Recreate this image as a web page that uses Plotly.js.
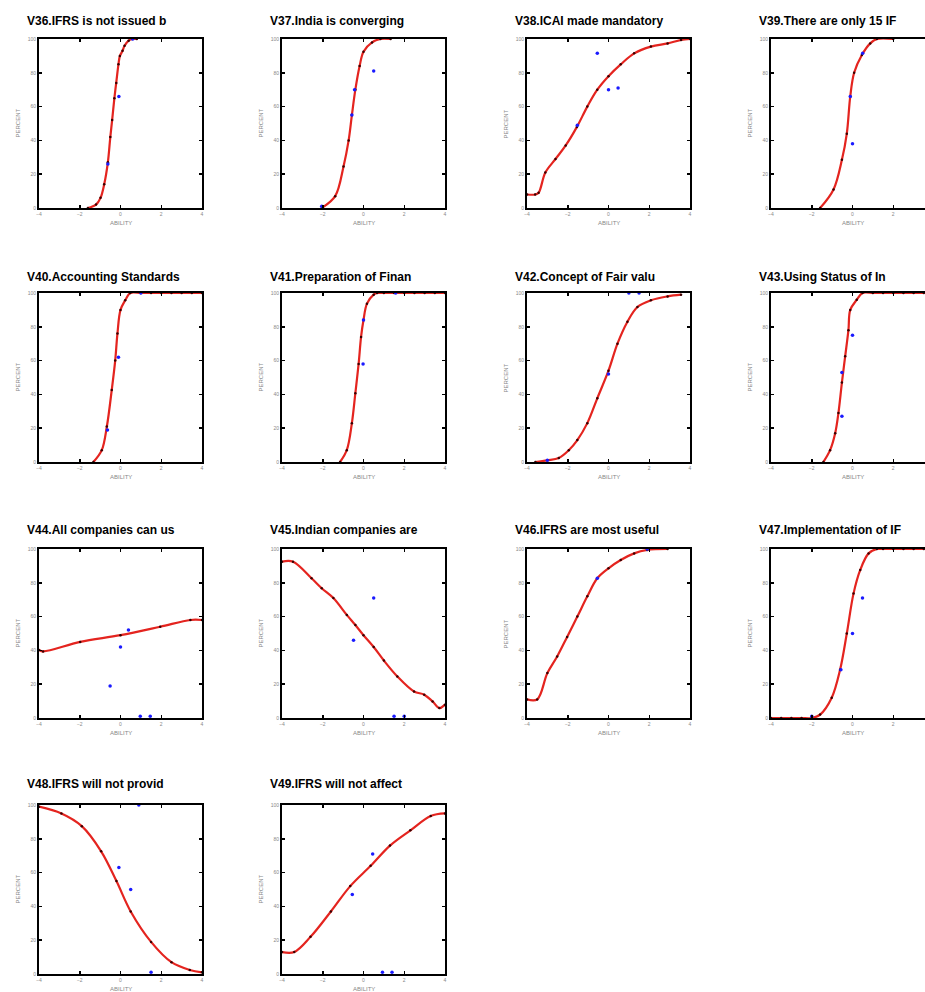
<!DOCTYPE html>
<html>
<head>
<meta charset="utf-8">
<script src="https://cdn.plot.ly/plotly-3.0.1.min.js"></script>
<style>
html,body{margin:0;padding:0;background:#fff;overflow:hidden;}
#chart{width:960px;height:992px;}
</style>
</head>
<body>
<div id="chart"></div>
<script>
// ---- data ----
const titles = [
  "V36.IFRS is not issued b", "V37.India is converging", "V38.ICAI made mandatory", "V39.There are only 15 IF",
  "V40.Accounting Standards", "V41.Preparation of Finan", "V42.Concept of Fair valu", "V43.Using Status of In",
  "V44.All companies can us", "V45.Indian companies are", "V46.IFRS are most useful", "V47.Implementation of IF",
  "V48.IFRS will not provid", "V49.IFRS will not affect"
];
const xTicks = [-4, -2, 0, 2, 4];
const xTicksClipped = [-4, -2, 0, 2];   // right-hand column: last tick lies beyond the page edge
const yTicks = [0, 20, 40, 60, 80, 100];
const xLabel = "ABILITY";
const yLabel = "PERCENT";

// model curves (ability, percent)
const curveX = [
  [-1.6,-1.2,-0.98,-0.8,-0.62,-0.5,-0.41,-0.3,-0.21,-0.1,-0.03,0.1,0.2,0.4,0.57,0.8],
  [-2.05,-1.39,-0.98,-0.73,-0.57,-0.4,-0.19,0,0.42,0.83,1.33],
  [-4,-3.6,-3.43,-3.1,-2.6,-2.1,-1.55,-1.04,-0.55,0,0.6,1.26,2.08,2.9,3.56,4],
  [-1.59,-0.93,-0.52,-0.28,-0.11,0.08,0.46,0.87,1.2,2.0],
  [-1.33,-0.92,-0.67,-0.43,-0.26,-0.15,0,0.23,0.48,1,1.5,2,2.5,3,3.5,4],
  [-1.15,-0.82,-0.57,-0.4,-0.24,-0.12,0,0.17,0.5,0.67,1,1.5,2,2.5,3,3.5,4],
  [-3.59,-3,-2.44,-1.95,-1.53,-1.04,-0.55,0,0.44,0.93,1.42,2.08,2.9,3.56],
  [-1.43,-1.1,-0.85,-0.69,-0.52,-0.36,-0.2,-0.11,0.21,0.49,1,1.5,2,2.5,3,3.5,4],
  [-4,-3.8,-1.98,0,1.95,3.43,4],
  [-4,-3.46,-2.55,-2.05,-1.48,-0.82,-0.4,0,0.5,1.0,1.66,2.48,2.98,3.39,3.72,4],
  [-4,-3.5,-3.0,-2.52,-2.03,-1.53,-1.04,-0.55,0,0.6,1.26,1.9,2.9],
  [-4,-3.5,-3,-2.5,-2.0,-1.59,-1.02,-0.61,-0.28,0.05,0.38,0.79,1.2,1.5,2,2.5,3,3.5,4],
  [-4,-2.9,-1.9,-0.95,-0.2,0.5,1.5,2.5,3.4,4],
  [-4,-3.4,-2.6,-1.6,-0.65,0.35,1.3,2.3,3.3,4]
];
const curveY = [
  [0,2,6,14,27,42,52,65,74,85,90,93,96,99,100,100],
  [0,7,24.6,40,55,70,84,92.5,98,100,100],
  [8,8,9,21,29,37,48,60,70,78,85,91.5,95.5,97.4,99.4,100],
  [0,11,28.5,44,66,80,90.5,97.4,100,100],
  [0,7,21,42.6,60,76,90,95.7,100,100,100,100,100,100,100,100],
  [0,7,23,40.7,58,74,84,93.7,99,100,100,100,100,100,100,100,100],
  [0,1,2.4,7,13,23,37.7,54,70,83,91.7,95.7,98,99],
  [0,7,17,29,47,62.5,78,90,96,100,100,100,100,100,100,100,100],
  [40.3,39.4,45,49,54,58,58],
  [92.5,92.5,82.7,76.8,71,61,55,49,42,34,24.6,15.7,13.8,9.8,5.9,7.9],
  [11,11,26.6,36.4,48,60,72,82.7,88.6,93.5,97.4,99.4,100],
  [0,0,0,0,0,2,12,28.5,50,73.6,87.6,97.4,100,100,100,100,100,100,100],
  [99,95,87.5,72.6,55,37,19,7,2.4,1],
  [13,13,22,37,52,64,76,85,93.5,95]
];
// observed points
const obsX = [
  [-0.62,-0.08,0.6],
  [-2.05,-0.57,-0.44,0.5],
  [-1.53,-0.55,0,0.47],
  [-0.11,0,0.5],
  [-0.64,-0.1,1.0],
  [-0.02,0,1.58],
  [-3,0,1.0,1.5],
  [-0.52,-0.52,0],
  [-0.51,0,0.39,0.97,1.46],
  [-0.49,0.5,1.5,2.0],
  [-0.55,1.9],
  [-0.57,0,0.49,-2],
  [-0.08,0.5,0.9,1.5],
  [-0.55,0.45,0.93,1.4]
];
const obsY = [
  [26,66,100],
  [1,55,70,81],
  [49,91.5,70,71],
  [66,38,91.5],
  [19,62,100],
  [58,84,100],
  [1,52,100,100],
  [27,53,75],
  [19,42,52,1,1],
  [46,71,1,1],
  [82.7,100],
  [28.5,50,71,1],
  [63,50,100,1],
  [47,71,1,1]
];

// ---- layout geometry (pixels) ----
const W = 960, H = 992;
const colLeft = [39, 282, 527, 771];
const rowTop = [39, 293, 549, 805];
const titleOffset = [18, 16, 19, 21];
const pw = 163, ph = 169;

const traces = [];
const layout = {
  width: W, height: H,
  margin: {l: 0, r: 0, t: 0, b: 0},
  paper_bgcolor: '#fff', plot_bgcolor: '#fff',
  showlegend: false,
  annotations: [],
  font: {family: 'Liberation Sans, Arial, sans-serif'}
};

titles.forEach((t, i) => {
  const c = i % 4, r = Math.floor(i / 4);
  const k = i === 0 ? '' : String(i + 1);
  const left = colLeft[c], top = rowTop[r];
  const xd = [left / W, (left + pw) / W];
  const yd = [1 - (top + ph) / H, 1 - top / H];
  const axBase = {
    ticks: 'inside', ticklen: 3, tickwidth: 1.5, tickcolor: '#000',
    showline: true, linewidth: 2, linecolor: '#000', mirror: 'ticks',
    showgrid: false, zeroline: false, fixedrange: true,
    tickfont: {size: 5, color: '#888', family: 'Liberation Sans, Arial, sans-serif'}
  };
  layout['xaxis' + k] = Object.assign({}, axBase, {
    domain: xd, range: [-4, 4], tickvals: c === 3 ? xTicksClipped : xTicks, anchor: 'y' + k
  });
  layout['yaxis' + k] = Object.assign({}, axBase, {
    domain: yd, range: [0, 100], tickvals: yTicks, anchor: 'x' + k
  });
  traces.push({
    type: 'scatter', mode: 'lines', x: curveX[i], y: curveY[i],
    xaxis: 'x' + k, yaxis: 'y' + k, cliponaxis: false,
    line: {color: '#e4241f', width: 2.2, shape: 'spline', smoothing: 1},
    hoverinfo: 'skip'
  });
  traces.push({
    type: 'scatter', mode: 'markers', x: curveX[i], y: curveY[i],
    xaxis: 'x' + k, yaxis: 'y' + k, cliponaxis: false,
    marker: {color: '#3a0000', size: 2.5}
  });
  traces.push({
    type: 'scatter', mode: 'markers', x: obsX[i], y: obsY[i],
    xaxis: 'x' + k, yaxis: 'y' + k, cliponaxis: false,
    marker: {color: '#1a1aff', size: 3.5}
  });
  // panel title
  layout.annotations.push({
    text: '<b>' + t + '</b>', xref: 'paper', yref: 'paper',
    x: (left - 14) / W, y: 1 - (top - titleOffset[r]) / H, xanchor: 'left', yanchor: 'middle',
    showarrow: false, font: {size: 12, color: '#000', family: 'Liberation Sans, Arial, sans-serif'}
  });
  // axis titles
  layout.annotations.push({
    text: xLabel, xref: 'paper', yref: 'paper',
    x: (left + pw / 2) / W, y: 1 - (top + ph + 15) / H, xanchor: 'center', yanchor: 'middle',
    showarrow: false, font: {size: 6, color: '#888'}
  });
  layout.annotations.push({
    text: yLabel, xref: 'paper', yref: 'paper', textangle: -90,
    x: (left - 22) / W, y: 1 - (top + ph / 2) / H, xanchor: 'center', yanchor: 'middle',
    showarrow: false, font: {size: 6, color: '#888'}
  });
});

Plotly.newPlot('chart', traces, layout, {staticPlot: true, displayModeBar: false});
</script>
</body>
</html>
